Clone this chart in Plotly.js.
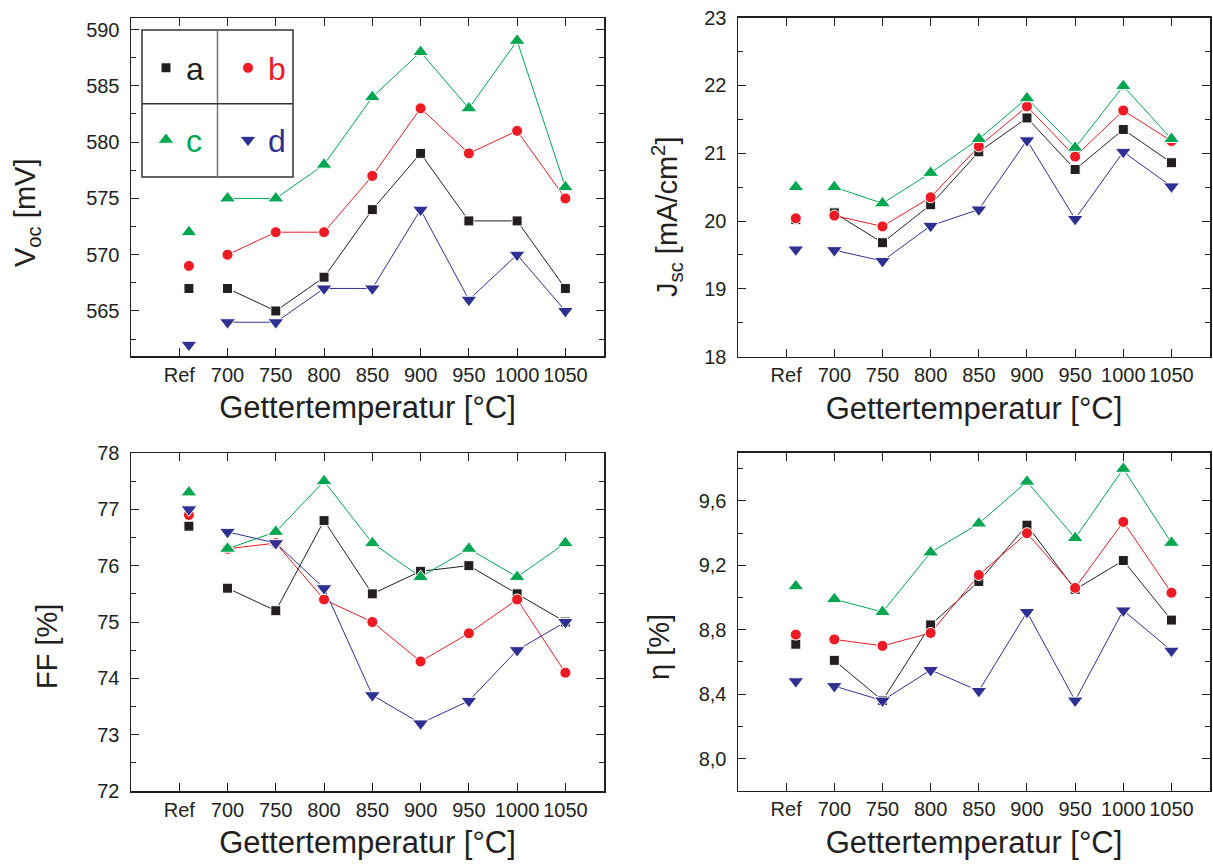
<!DOCTYPE html>
<html>
<head>
<meta charset="utf-8">
<script src="https://cdn.plot.ly/plotly-3.0.1.min.js"></script>
<style>html,body{margin:0;padding:0;background:#fff}#chart{width:1213px;height:866px}</style>
</head>
<body>
<div id="chart"></div>
<script>
// ---------- data ----------
const categories = ['Ref', '700', '750', '800', '850', '900', '950', '1000', '1050'];
const seriesNames = ['a', 'b', 'c', 'd'];

// Voc [mV]
const voc_a = [567, 567, 565, 568, 574, 579, 573, 573, 567];
const voc_b = [569, 570, 572, 572, 577, 583, 579, 581, 575];
const voc_c = [572, 575, 575, 578, 584, 588, 583, 589, 576];
const voc_d = [562, 564, 564, 567, 567, 574, 566, 570, 565];

// Jsc [mA/cm2]
const jsc_a = [20.02, 20.12, 19.68, 20.24, 21.02, 21.52, 20.76, 21.35, 20.86];
const jsc_b = [20.04, 20.08, 19.92, 20.35, 21.10, 21.69, 20.95, 21.63, 21.18];
const jsc_c = [20.50, 20.50, 20.26, 20.71, 21.21, 21.81, 21.08, 21.99, 21.21];
const jsc_d = [19.58, 19.57, 19.41, 19.93, 20.17, 21.19, 20.03, 21.02, 20.51];

// FF [%]
const ff_a = [76.7, 75.6, 75.2, 76.8, 75.5, 75.9, 76.0, 75.5, 75.0];
const ff_b = [76.9, 76.3, 76.4, 75.4, 75.0, 74.3, 74.8, 75.4, 74.1];
const ff_c = [77.3, 76.3, 76.6, 77.5, 76.4, 75.8, 76.3, 75.8, 76.4];
const ff_d = [77.0, 76.6, 76.4, 75.6, 73.7, 73.2, 73.6, 74.5, 75.0];

// eta [%]
const eta_a = [8.71, 8.61, 8.36, 8.83, 9.10, 9.45, 9.05, 9.23, 8.86];
const eta_b = [8.77, 8.74, 8.70, 8.78, 9.14, 9.40, 9.06, 9.47, 9.03];
const eta_c = [9.07, 8.99, 8.91, 9.28, 9.46, 9.72, 9.37, 9.80, 9.34];
const eta_d = [8.48, 8.45, 8.36, 8.55, 8.42, 8.91, 8.36, 8.92, 8.67];

// ---------- style ----------
const colors = ['#231f20', '#ed1c24', '#00a650', '#2e3192'];
const symbols = ['square', 'circle', 'triangle-up', 'triangle-down'];
const msizes = [10, 11, 14, 14];
const FONT = 'Liberation Sans, Arial, sans-serif';
const INK = '#231f20';
const W = 1213, H = 866;
const fx = p => p / W;
const fy = p => 1 - p / H;
const refShift = 0.2; // Ref markers drawn slightly right of their tick

const xPos = categories.map((c, i) => i === 0 ? i + refShift : i);
const tickPos = categories.map((c, i) => i);

const panels = [
  {ax: '', data: [voc_a, voc_b, voc_c, voc_d]},
  {ax: '2', data: [jsc_a, jsc_b, jsc_c, jsc_d]},
  {ax: '3', data: [ff_a, ff_b, ff_c, ff_d]},
  {ax: '4', data: [eta_a, eta_b, eta_c, eta_d]}
];

const traces = [];
panels.forEach((p, pi) => {
  // connecting lines (temperatures only)
  p.data.forEach((vals, si) => {
    traces.push({
      type: 'scatter', mode: 'lines',
      x: xPos.slice(1), y: vals.slice(1),
      xaxis: 'x' + p.ax, yaxis: 'y' + p.ax,
      line: {color: colors[si], width: 1},
      showlegend: false, hoverinfo: 'skip'
    });
  });
  // markers (all points incl. Ref)
  p.data.forEach((vals, si) => {
    traces.push({
      type: 'scatter', mode: 'markers',
      name: seriesNames[si],
      x: xPos, y: vals,
      xaxis: 'x' + p.ax, yaxis: 'y' + p.ax,
      marker: {symbol: symbols[si], color: colors[si], size: msizes[si],
               line: {color: 'white', width: 1}},
      showlegend: pi === 0,
      legend: si === 0 ? 'legend' : 'legend' + (si + 1)
    });
  });
});

function xAxis(d0, d1, anchor) {
  return {
    domain: [fx(d0), fx(d1)], anchor: anchor,
    range: [-1, 8.8],
    tickmode: 'array', tickvals: tickPos, ticktext: categories,
    ticks: 'inside', ticklen: 8, tickwidth: 1, tickcolor: INK,
    showline: true, linecolor: INK, linewidth: 1.5, mirror: 'allticks',
    showgrid: false, zeroline: false,
    tickfont: {family: FONT, size: 20, color: INK},
    ticklabelstandoff: 0,
    title: {text: 'Gettertemperatur [°C]', font: {family: FONT, size: 31, color: INK}, standoff: 12}
  };
}
function yAxis(t, b, anchor, range, dtick, minor, fmt) {
  const a = {
    domain: [fy(b), fy(t)], anchor: anchor,
    range: range, tick0: 0, dtick: dtick,
    ticks: 'inside', ticklen: 8, tickwidth: 1, tickcolor: INK,
    minor: {ticks: 'inside', ticklen: 5, tickwidth: 1, tickcolor: INK, dtick: minor, tick0: 0, showgrid: false},
    showline: true, linecolor: INK, linewidth: 1.5, mirror: 'allticks',
    showgrid: false, zeroline: false,
    tickfont: {family: FONT, size: 20, color: INK},
    ticklabelstandoff: 6
  };
  if (fmt) a.tickformat = fmt;
  return a;
}

function legendAt(px, py, color) {
  return {
    x: fx(px), y: fy(py), xanchor: 'left', yanchor: 'middle',
    orientation: 'v', bgcolor: 'rgba(0,0,0,0)', borderwidth: 0,
    itemwidth: 30, font: {family: FONT, size: 32, color: color}
  };
}

const ytitle = (txt, px, py) => ({
  text: txt, xref: 'paper', yref: 'paper', x: fx(px), y: fy(py),
  xanchor: 'center', yanchor: 'middle', textangle: -90, showarrow: false,
  font: {family: FONT, size: 29, color: INK}
});

const layout = {
  width: W, height: H,
  margin: {l: 0, r: 0, t: 0, b: 0},
  paper_bgcolor: 'white', plot_bgcolor: 'white',
  separators: ',.',
  font: {family: FONT, color: INK},
  xaxis: xAxis(131, 604, 'y'),
  yaxis: yAxis(18.3, 356, 'x', [561, 591], 5, 2.5),
  xaxis2: xAxis(738, 1210, 'y2'),
  yaxis2: yAxis(17.6, 356.6, 'x2', [18, 23], 1, 0.5),
  xaxis3: xAxis(131, 604, 'y3'),
  yaxis3: yAxis(453, 791, 'x3', [72, 78], 1, 0.5),
  xaxis4: xAxis(738, 1210, 'y4'),
  yaxis4: yAxis(452.7, 790.7, 'x4', [7.8, 9.9], 0.4, 0.2, '.1f'),
  legend: legendAt(146, 68, colors[0]),
  legend2: legendAt(228, 68, colors[1]),
  legend3: legendAt(146, 140, colors[2]),
  legend4: legendAt(228, 140, colors[3]),
  shapes: [
    {type: 'rect', xref: 'paper', yref: 'paper', x0: fx(142), x1: fx(293), y0: fy(177), y1: fy(30),
     line: {color: '#333333', width: 1.5}, fillcolor: 'rgba(0,0,0,0)'},
    {type: 'line', xref: 'paper', yref: 'paper', x0: fx(217.5), x1: fx(217.5), y0: fy(177), y1: fy(30),
     line: {color: '#777777', width: 1.5}},
    {type: 'line', xref: 'paper', yref: 'paper', x0: fx(142), x1: fx(293), y0: fy(103.7), y1: fy(103.7),
     line: {color: '#333333', width: 1.5}}
  ],
  annotations: [
    ytitle('V<sub>oc</sub> [mV]', 27, 213),
    ytitle('J<sub>sc</sub> [mA/cm<sup>2</sup>]', 667, 217),
    ytitle('FF [%]', 47, 647),
    ytitle('η [%]', 659, 647)
  ]
};

Plotly.newPlot('chart', traces, layout, {displayModeBar: false, staticPlot: true});
</script>
</body>
</html>
